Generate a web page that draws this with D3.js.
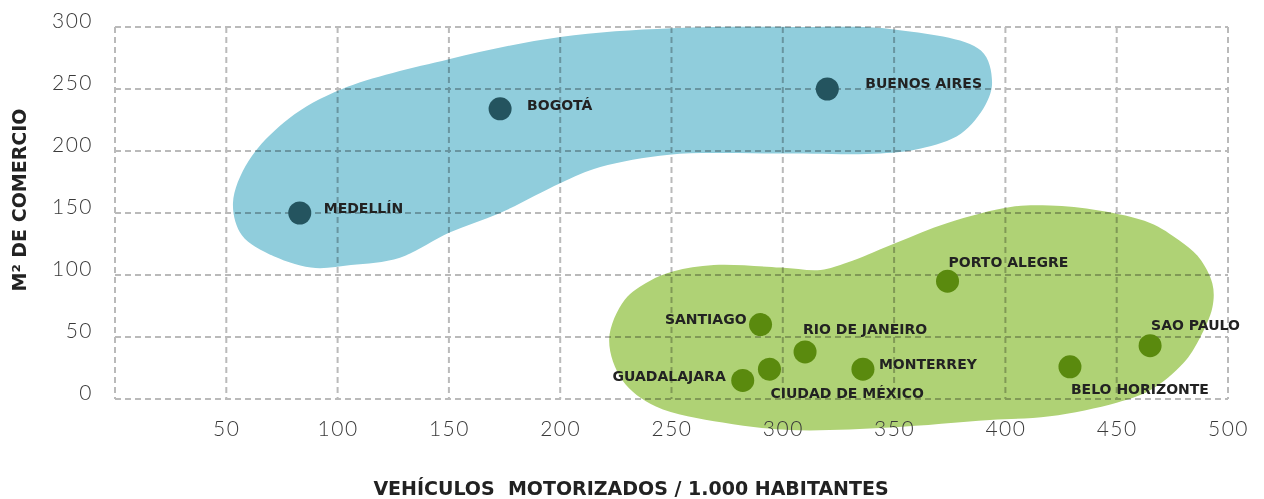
<!DOCTYPE html>
<html>
<head>
<meta charset="utf-8">
<script src="https://cdn.jsdelivr.net/npm/d3@7"></script>
<style>
  body { margin: 0; background: #fff; }
  .tick text { font-family: Lato, sans-serif; font-weight: 300; fill: #3a3a3a; letter-spacing: 1.5px; }
  .city { font-family: "DejaVu Sans", sans-serif; font-weight: bold; font-size: 14px; fill: #222; }
  .title { font-family: "DejaVu Sans", sans-serif; font-weight: bold; fill: #222; }
</style>
</head>
<body>
<div id="chart"></div>
<script>
// city data
const cities = ["MEDELLÍN", "BOGOTÁ", "BUENOS AIRES", "PORTO ALEGRE", "SANTIAGO", "RIO DE JANEIRO",
                "GUADALAJARA", "CIUDAD DE MÉXICO", "MONTERREY", "BELO HORIZONTE", "SAO PAULO"];
const vehicles = [83, 173, 320, 374, 290, 310, 282, 294, 336, 429, 465];
const commerce = [150, 234, 250, 95, 60, 38, 15, 24, 24, 26, 43];
const cluster = ["a", "a", "a", "b", "b", "b", "b", "b", "b", "b", "b"];

// label offsets (px) and anchors
const label_dx = [24, 27, 38, 1, -14, -2, -17, 1, 16, 1, 1];
const label_dy = [-5, -4, -6, -19, -6, -23, -4, 24, -5, 22, -21];
const label_anchor = ["start", "start", "start", "start", "end", "start", "end", "start", "start", "start", "start"];

// hand drawn cluster outlines, in data units
const blob_a_x = [53, 60, 78, 102, 150, 200, 250, 308, 350, 389, 394, 391, 380, 362, 344, 294, 249, 218, 200, 173, 150, 128, 106, 88, 68, 57];
const blob_a_y = [158, 192, 226, 250, 274, 292, 299, 300, 298, 281, 256, 237, 214, 202, 198, 198, 197, 187, 174, 150, 134, 114, 108, 106, 118, 132];
const blob_b_x = [222, 229, 240, 251, 269, 299, 317, 329, 351, 374, 403, 420, 442, 465, 478, 487, 493, 493, 487, 480, 465, 450, 420, 393, 348, 303, 273, 243, 228];
const blob_b_y = [48, 80, 95, 103, 108, 106, 104, 110, 126, 142, 155, 156, 152, 142, 128, 114, 93, 74, 48, 29, 7, -3, -14, -17, -23, -25, -19, -6, 15];

const x_ticks = [0, 50, 100, 150, 200, 250, 300, 350, 400, 450, 500];
const y_ticks = [0, 50, 100, 150, 200, 250, 300];

const colors = {a: "#90cddc", b: "#afd275"};
const dot_colors = {a: "#24545f", b: "#5a8a0e"};

const W = 1264, H = 499;
const margin = {left: 115, right: 1228, top: 27, bottom: 399};

const svg = d3.select("#chart").append("svg")
  .attr("width", W).attr("height", H);

const x = d3.scaleLinear().domain([0, 500]).range([margin.left, margin.right]);
const y = d3.scaleLinear().domain([0, 300]).range([margin.bottom, margin.top]);

const blobLine = d3.line()
  .x(function(d) { return x(d[0]); })
  .y(function(d) { return y(d[1]); })
  .curve(d3.curveCatmullRomClosed.alpha(0.5));

svg.append("path").attr("d", blobLine(d3.zip(blob_a_x, blob_a_y))).attr("fill", colors.a);
svg.append("path").attr("d", blobLine(d3.zip(blob_b_x, blob_b_y))).attr("fill", colors.b);

// dashed grid, multiplied over the blobs
const grid = svg.append("g").style("mix-blend-mode", "multiply")
  .attr("stroke", "#bababa").attr("stroke-width", 2).attr("stroke-dasharray", "6,4");
grid.selectAll(".v").data(x_ticks).enter().append("line")
  .attr("x1", function(d) { return x(d); }).attr("x2", function(d) { return x(d); })
  .attr("y1", margin.top).attr("y2", margin.bottom);
grid.selectAll(".h").data(y_ticks).enter().append("line")
  .attr("y1", function(d) { return y(d); }).attr("y2", function(d) { return y(d); })
  .attr("x1", margin.left).attr("x2", margin.right);

// axes (labels only)
const xAxis = d3.axisBottom(x).tickValues(x_ticks.slice(1)).tickSize(0).tickPadding(22);
svg.append("g").attr("transform", "translate(0," + margin.bottom + ")").call(xAxis)
  .call(function(g) { g.select(".domain").remove(); })
  .selectAll("text").style("font-size", "21px");

const yAxis = d3.axisLeft(y).tickValues(y_ticks).tickSize(0).tickPadding(22);
svg.append("g").attr("transform", "translate(" + margin.left + ",-6)").call(yAxis)
  .call(function(g) { g.select(".domain").remove(); })
  .selectAll("text").style("font-size", "21px");

// dots + labels
const idx = d3.range(cities.length);
svg.selectAll(".dot").data(idx).enter().append("circle")
  .attr("cx", function(i) { return x(vehicles[i]); })
  .attr("cy", function(i) { return y(commerce[i]); })
  .attr("r", 11.5)
  .attr("fill", function(i) { return dot_colors[cluster[i]]; });

svg.selectAll(".city").data(idx).enter().append("text")
  .attr("class", "city")
  .attr("x", function(i) { return x(vehicles[i]) + label_dx[i]; })
  .attr("y", function(i) { return y(commerce[i]) + label_dy[i]; })
  .attr("dy", "0.35em")
  .attr("text-anchor", function(i) { return label_anchor[i]; })
  .text(function(i) { return cities[i]; });

// axis titles
svg.append("text").attr("class", "title").attr("x", 631).attr("y", 488).attr("dy", "0.35em")
  .attr("text-anchor", "middle").style("font-size", "19px").style("white-space", "pre")
  .text("VEHÍCULOS  MOTORIZADOS / 1.000 HABITANTES");

svg.append("text").attr("class", "title")
  .attr("transform", "translate(19,200) rotate(-90)").attr("dy", "0.35em")
  .attr("text-anchor", "middle").style("font-size", "19px")
  .text("M² DE COMERCIO");
</script>
</body>
</html>
